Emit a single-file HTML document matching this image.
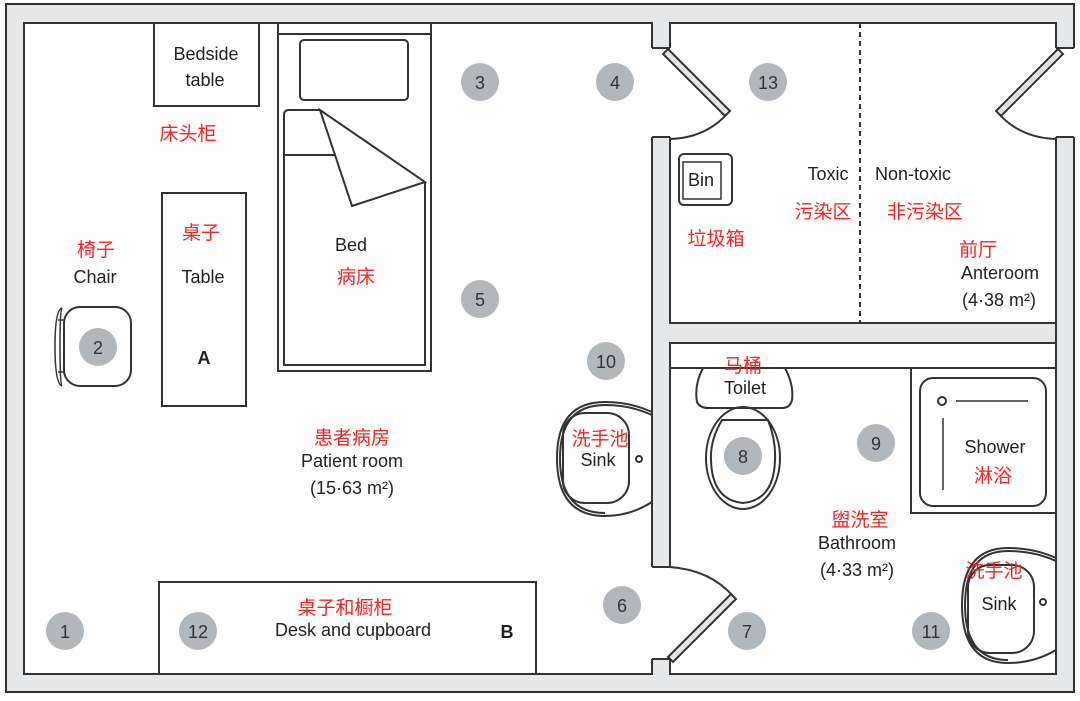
<!DOCTYPE html>
<html><head><meta charset="utf-8"><style>
body{margin:0;background:#fff;}
svg{display:block;}
text{font-family:"Liberation Sans","Noto Sans CJK SC",sans-serif;}
.k{fill:#222;font-size:18px;text-anchor:middle;}
.r{fill:#ff2020;font-size:19px;text-anchor:middle;font-family:"Noto Serif CJK SC","Noto Sans CJK SC",serif;}
.n{fill:#333;font-size:18px;text-anchor:middle;}
</style></head><body>
<svg width="1080" height="701" viewBox="0 0 1080 701" xmlns="http://www.w3.org/2000/svg">
<rect x="6" y="4" width="1068" height="688" fill="#e6e7e9" stroke="#333" stroke-width="2"/>
<g fill="#fff" stroke="#333" stroke-width="2">
<rect x="24" y="23" width="628" height="651"/>
<rect x="670" y="23" width="386" height="300"/>
<rect x="670" y="343" width="386" height="331"/>
</g>
<g fill="#fff" stroke="none">
<rect x="650" y="48" width="22" height="89"/>
<rect x="650" y="567" width="22" height="92"/>
<rect x="1054" y="48" width="22" height="89"/>
</g>
<g stroke="#333" stroke-width="2" fill="none">
<path d="M652 48H670M652 137H670M652 567H670M652 659H670M1056 48H1074M1056 137H1074"/>
<path d="M652 48V23M670 48V23M652 137V567M670 137V323M670 343V567M652 659V674M670 659V674M1056 48V23M1074 48V4M1056 137V674M1074 137V692"/>
<!-- door leaves -->
<path d="M668 49 L730 111 L725 116 L663 54 Z" fill="#e6e7e9"/>
<path d="M1058 49 L996 111 L1001 116 L1063 54 Z" fill="#e6e7e9"/>
<path d="M668 657 L731 594 L736 599 L673 662 Z" fill="#e6e7e9"/>
<path d="M727 114 Q705 138 670 139"/>
<path d="M999 114 Q1021 138 1056 139"/>
<path d="M670 567 Q710 570 733 596"/>
<!-- dotted -->
<path d="M860 23V323" stroke-dasharray="5,4"/>
<!-- bedside table -->
<path d="M154 23V106H259V23"/>
<!-- bed -->
<path d="M278 23V371H431V23M278 34H431"/>
<rect x="300" y="40" width="108" height="60" rx="4"/>
<path d="M320 110H289Q284 110 284 115V365H425V182"/>
<path d="M284 155H336"/>
<path d="M320 110L352 206L425 182Z"/>
<!-- table -->
<rect x="162" y="193" width="84" height="213"/>
<!-- chair -->
<rect x="64" y="307" width="67" height="79" rx="16"/>
<path d="M62 308Q55 310 55 346Q55 384 62 386M62 308Q60 310 60 346Q60 384 62 386M58 320H64M58 372H64" stroke-width="1.5"/>
<!-- desk -->
<path d="M159 674V582H536V674"/>
<!-- sinks -->
<path d="M652 412Q630 402 605 402Q557 402 557 458Q557 516 605 516Q630 516 652 502"/>
<path d="M652 415Q630 405 605 405Q560 405 560 458Q560 513 605 513"/>
<rect x="563" y="413" width="66" height="90" rx="22"/>
<circle cx="639" cy="459" r="3"/>
<path d="M1056 558Q1034 548 1008 548Q962 548 962 605Q962 663 1008 663Q1034 663 1056 650"/>
<path d="M1056 561Q1034 551 1008 551Q965 551 965 605Q965 660 1008 660"/>
<rect x="968" y="565" width="66" height="88" rx="22"/>
<circle cx="1043" cy="602" r="3"/>
<!-- toilet -->
<path d="M670 368H1056"/>
<path d="M703 368Q694 385 697 402Q700 408 708 408H782Q790 408 792 400Q794 385 785 368"/>
<ellipse cx="743" cy="458" rx="37" ry="51"/>
<path d="M722 420H768Q776 440 775 460Q774 500 743 503Q712 500 711 460Q710 440 722 420Z"/>
<!-- shower -->
<path d="M911 368V513H1056"/>
<rect x="920" y="378" width="126" height="128" rx="13"/>
<circle cx="942" cy="401" r="4"/>
<path d="M956 401H1028M943 418V490" stroke-width="1.5"/>
<!-- bin -->
<rect x="679" y="154" width="53" height="51" rx="5"/>
<rect x="683" y="162" width="38" height="37" stroke-width="1.5"/>
</g>
<!-- circles -->
<g fill="#b0b7bd">
<circle cx="65" cy="631" r="19"/><circle cx="98" cy="347" r="19"/><circle cx="480" cy="82" r="19"/>
<circle cx="615" cy="82" r="19"/><circle cx="480" cy="299" r="19"/><circle cx="606" cy="361" r="19"/>
<circle cx="622" cy="605" r="19"/><circle cx="747" cy="631" r="19"/><circle cx="743" cy="456" r="19"/>
<circle cx="876" cy="443" r="19"/><circle cx="931" cy="631" r="19"/><circle cx="198" cy="631" r="19"/>
<circle cx="768" cy="82" r="19"/>
</g>
<g class="n">
<text x="65" y="638">1</text><text x="98" y="354">2</text><text x="480" y="89">3</text>
<text x="615" y="89">4</text><text x="480" y="306">5</text><text x="606" y="368">10</text>
<text x="622" y="612">6</text><text x="747" y="638">7</text><text x="743" y="463">8</text>
<text x="876" y="450">9</text><text x="931" y="638">11</text><text x="198" y="638">12</text>
<text x="768" y="89">13</text>
</g>
<g class="k">
<text x="206" y="60">Bedside</text><text x="205" y="86">table</text>
<text x="95" y="283">Chair</text><text x="203" y="283">Table</text>
<text x="204" y="364" style="font-weight:bold">A</text>
<text x="351" y="251">Bed</text>
<text x="352" y="467">Patient room</text>
<text x="352" y="494">(15·63 m²)</text>
<text x="353" y="636">Desk and cupboard</text>
<text x="507" y="638" style="font-weight:bold">B</text>
<text x="701" y="186">Bin</text>
<text x="828" y="180">Toxic</text><text x="913" y="180">Non-toxic</text>
<text x="1000" y="279">Anteroom</text><text x="999" y="306">(4·38 m²)</text>
<text x="745" y="394">Toilet</text>
<text x="598" y="466">Sink</text>
<text x="995" y="453">Shower</text>
<text x="857" y="549">Bathroom</text><text x="857" y="576">(4·33 m²)</text>
<text x="999" y="610">Sink</text>
</g>
<g class="r">
<text x="188" y="140">床头柜</text>
<text x="96" y="256">椅子</text><text x="201" y="239">桌子</text>
<text x="356" y="283">病床</text>
<text x="352" y="444">患者病房</text>
<text x="345" y="614">桌子和橱柜</text>
<text x="716" y="245">垃圾箱</text>
<text x="823" y="218">污染区</text><text x="925" y="218">非污染区</text>
<text x="978" y="256">前厅</text>
<text x="743" y="372">马桶</text>
<text x="600" y="445">洗手池</text>
<text x="993" y="482">淋浴</text>
<text x="860" y="526">盥洗室</text>
<text x="994" y="577">洗手池</text>
</g>
</svg>
</body></html>
